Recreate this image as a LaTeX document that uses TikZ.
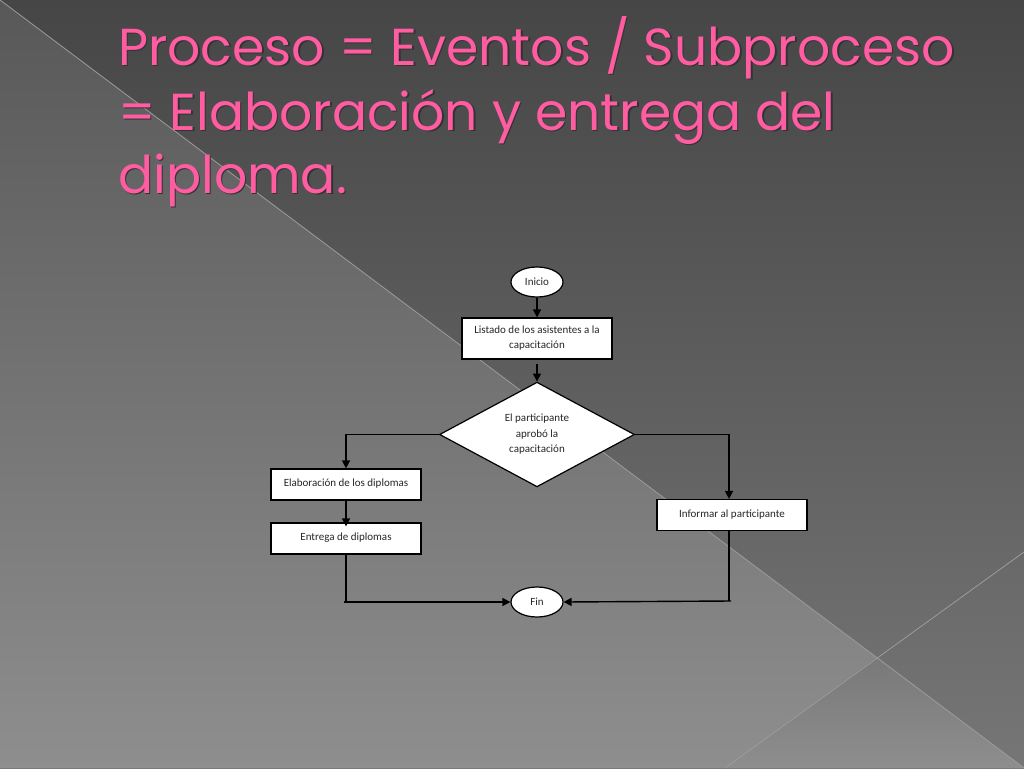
\documentclass[tikz,border=0pt]{standalone}
\usepackage{fontspec}
\setmainfont{Carlito}
\newfontfamily\titlefont{Poppins}
\usetikzlibrary{shapes.geometric,arrows.meta}
\definecolor{titlepink}{HTML}{FF5CA2}
\definecolor{bgtop}{HTML}{464646}
\definecolor{bgbot}{HTML}{767676}
\definecolor{lowtop}{HTML}{585858}
\definecolor{lowbot}{HTML}{8E8E8E}
\definecolor{diagline}{HTML}{9C9C9C}
\tikzset{
  box/.style={draw=black, fill=white, line width=1.2pt, minimum width=150pt, minimum height=31pt, inner sep=2pt, font=\fontsize{11}{15}\selectfont, text=black!85, align=center},
  term/.style={draw=black, fill=white, line width=1.2pt, ellipse, minimum width=52pt, minimum height=30pt, inner sep=0pt, font=\fontsize{11}{12}\selectfont, text=black!85},
  decision/.style={draw=black, fill=white, line width=1.2pt, diamond, minimum width=195pt, minimum height=99pt, inner sep=0pt, font=\fontsize{11}{15.5}\selectfont, text=black!85, align=center},
  flow/.style={line width=1.4pt, draw=black, -{Triangle[length=8pt,width=8pt]}},
  plain/.style={line width=1.4pt, draw=black},
  titletext/.style={anchor=base west, inner sep=0pt, font=\titlefont\fontsize{52}{64}\selectfont},
}
\begin{document}
\begin{tikzpicture}[x=1pt,y=-1pt]
\useasboundingbox (0,0) rectangle (1024,768);
% background
\shade[top color=bgtop, bottom color=bgbot] (0,0) rectangle (1024,768);
\shade[top color=lowtop, bottom color=lowbot] (0,0) -- (1024,768) -- (0,768) -- cycle;
\shade[top color=lowtop!40!lowbot, bottom color=lowbot] (725,768) -- (877,657) -- (1024,768) -- cycle;
\draw[diagline, line width=0.8pt] (0,0) -- (1024,768);
\draw[diagline, line width=0.8pt] (725,768) -- (1024,552);
% title
\foreach \t/\y in {{Proceso = Eventos / Subproceso}/65, {= Elaboración y entrega del}/130, {diploma.}/193}{
  \node[titletext, text=black!80] at (119.5,\y+1.5) {\t};
  \node[titletext, text=titlepink] at (118,\y) {\t};
}
% flowchart nodes
\node[term] (inicio) at (537,282) {Inicio};
\node[box, minimum height=41pt] (listado) at (537,338.5) {Listado de los asistentes a la\\capacitación};
\node[decision] (dec) at (537,434.5) {El participante\\aprobó la\\capacitación};
\node[box] (elab) at (346,484.5) {\raisebox{3pt}{Elaboración de los diplomas}};
\node[box] (entrega) at (346,538.5) {\raisebox{3pt}{Entrega de diplomas}};
\node[box] (informar) at (732,515) {\raisebox{3pt}{Informar al participante}};
\node[term] (fin) at (537,602) {Fin};
% connectors
\coordinate (lc) at (346,434.5);
\coordinate (rc) at (729,434.5);
\coordinate (lb) at (346,602);
\coordinate (rb) at (729,601);
\draw[flow] (inicio.south) -- (listado.north);
\draw[flow] ([yshift=-4pt]listado.south) -- (dec.north);
\draw[flow] (dec.west) -- (lc) -- (elab.north);
\draw[flow] (elab.south) -- ([yshift=-4pt]entrega.north);
\draw[flow] (dec.east) -- (rc) -- (informar.north -| rc);
\draw[plain] (entrega.south) -- (lb);
\draw[flow] ([xshift=-2pt]lb) -- (fin.west);
\draw[plain] (informar.south -| rb) -- (rb);
\draw[flow] ([xshift=2pt]rb) -- (fin.east);
\end{tikzpicture}
\end{document}
